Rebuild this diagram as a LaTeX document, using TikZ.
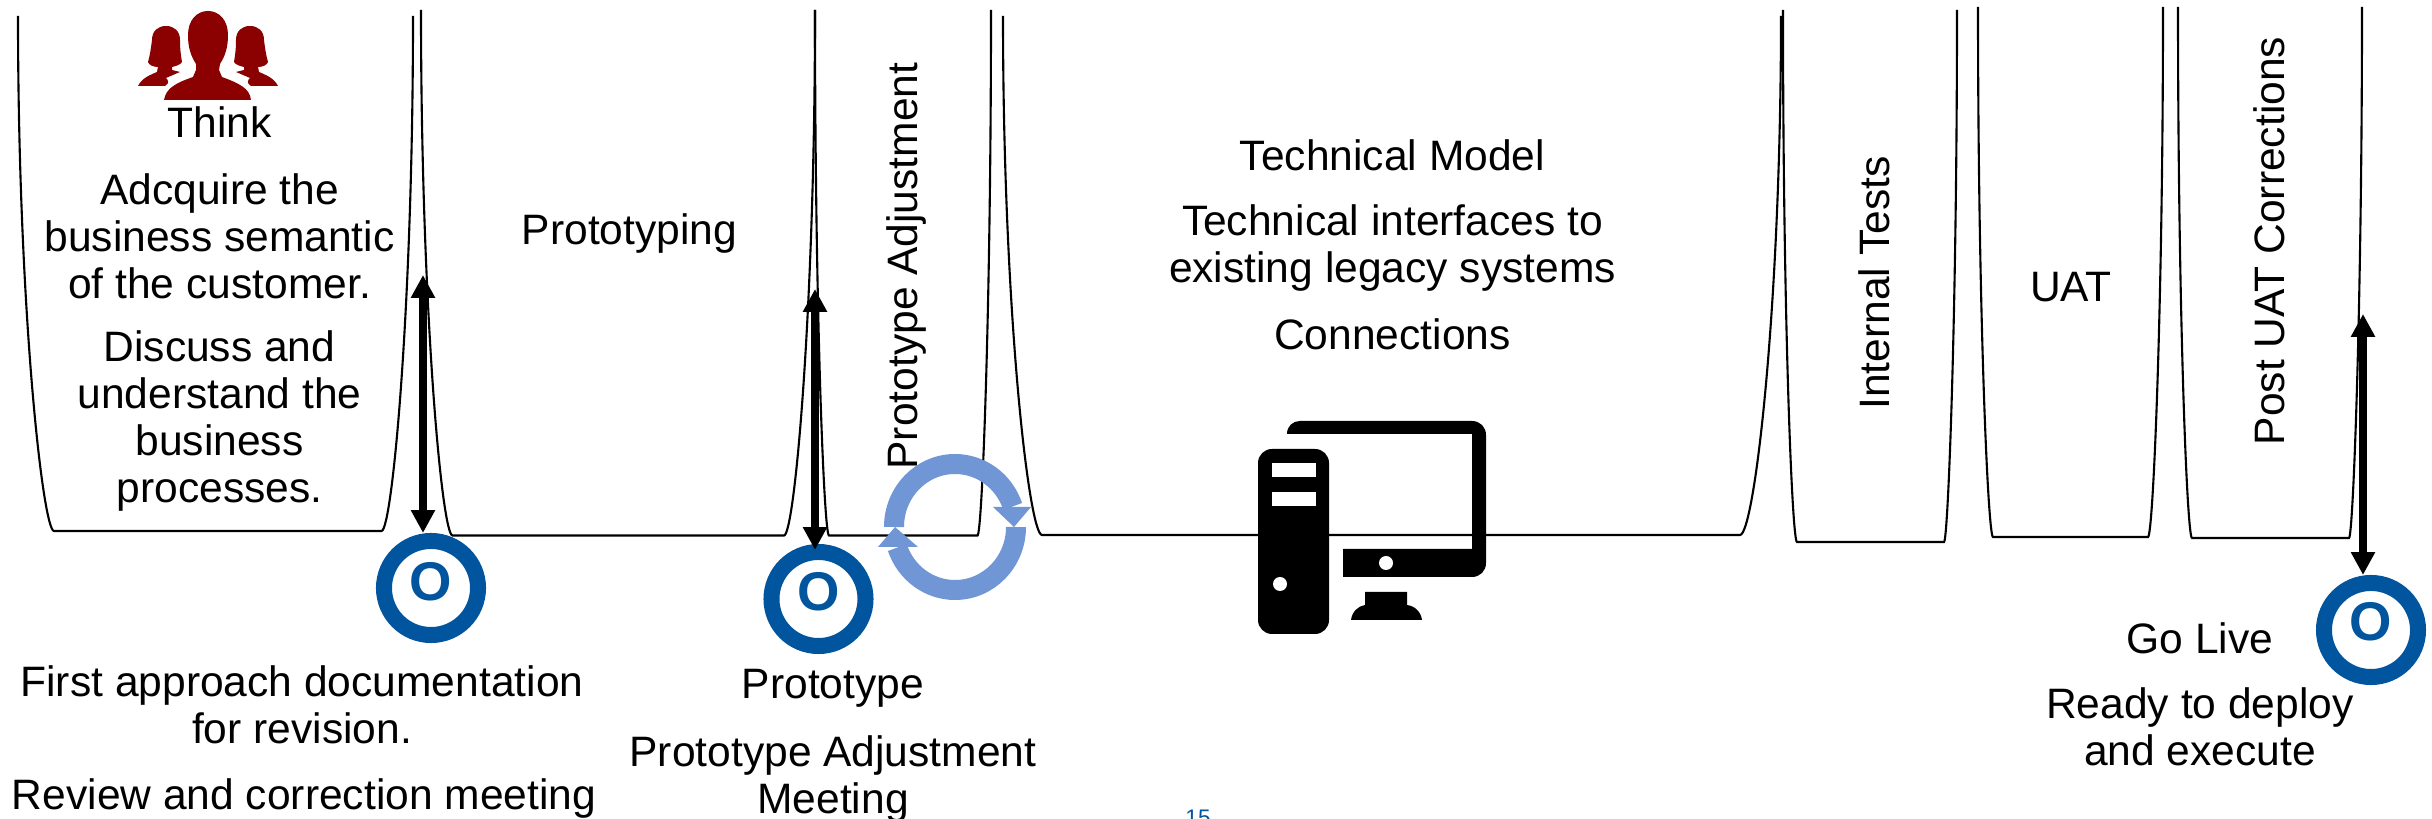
\documentclass[tikz,border=0pt]{standalone}
\usepackage{fontspec}
\setmainfont{Liberation Sans}
\usetikzlibrary{arrows.meta}
\definecolor{mileblue}{RGB}{0,85,158}
\definecolor{cycleblue}{RGB}{112,150,214}
\definecolor{iconred}{RGB}{139,0,0}
\tikzset{
  phase/.style={black, line width=0.6pt},
  txt/.style={align=center, inner sep=0pt, font=\fontsize{12.1}{13.4}\selectfont},
  gate/.style={black, line width=2.5pt, {Triangle[length=6.5pt,width=6.5pt]}-{Triangle[length=6.5pt,width=6.5pt]}},
  mile/.style={circle, draw=mileblue, line width=0.16cm, minimum size=0.94cm, inner sep=0pt},
  mileltr/.style={text=mileblue, inner sep=0pt, font=\fontsize{15.5}{15.5}\selectfont\bfseries},
  cycle/.style={cycleblue, line width=0.2cm}
}
\begin{document}
\begin{tikzpicture} [x=0.01cm, y=-0.01cm]
\useasboundingbox (0, 0) rectangle (2432, 819);
\draw[phase] (18, 16).. controls(18, 310)and(43, 531)..(54, 531) -- (381.5, 531).. controls(392, 531)and(413, 310)..(413, 16);
\draw[phase] (421, 10).. controls(421, 310)and(442, 535.5)..(452.5, 535.5) -- (784, 535.5).. controls(794.5, 535.5)and(815, 310)..(815, 10);
\draw[phase] (815, 10).. controls(815, 310)and(824, 535.5)..(829, 535.5) -- (977.5, 535.5).. controls(982, 535.5)and(991, 310)..(991, 10);
\draw[phase] (1003, 16).. controls(1003, 312)and(1029, 535)..(1042, 535) -- (1740, 535).. controls(1754, 535)and(1781, 312)..(1781, 16);
\draw[phase] (1783, 10).. controls(1783, 313)and(1792, 542)..(1797, 542) -- (1944, 542).. controls(1948, 542)and(1957, 313)..(1957, 10);
\draw[phase] (1978, 7).. controls(1978, 310)and(1988, 537)..(1993, 537) -- (2148, 537).. controls(2153, 537)and(2163, 310)..(2163, 7);
\draw[phase] (2178, 7).. controls(2178, 310)and(2187, 538)..(2192, 538) -- (2349, 538).. controls(2353, 538)and(2362, 310)..(2362, 7);
% people
\fill[iconred] (164, 100).. controls(166, 88)and(176, 83)..(193, 77) -- (196, 70) -- (196, 64).. controls(191, 56)and(188, 48)..(188, 35).. controls(188, 20)and(197, 11)..(208, 11).. controls(219, 11)and(228, 20)..(228, 35).. controls(228, 48)and(225, 56)..(220, 64) -- (219, 70) -- (222, 77).. controls(238, 83)and(250, 88)..(251, 100) -- cycle;
\foreach \flip in {1, -1}
  \fill[iconred, shift={(208, 0)}, xscale=\flip] (-70, 86).. controls(-66, 78)and(-58, 75)..(-51, 72) -- (-50, 67).. controls(-55, 67)and(-59, 65)..(-60, 62).. controls(-58, 55)and(-57, 48)..(-56, 40).. controls(-56, 31)and(-50, 26)..(-42, 26).. controls(-34, 26)and(-28, 31)..(-28, 40).. controls(-28, 50)and(-27, 56)..(-26, 62).. controls(-28, 65)and(-32, 66)..(-36, 67) -- (-36, 70) -- (-28, 72) -- (-42, 78).. controls(-40, 80)and(-38, 83)..(-43, 86) -- cycle;
% texts
\node[txt] (think) at (219.5, 122){Think};
\node[txt] (acquire) at (219.5, 236){Adcquire the\\business semantic\\of the customer.};
\node[txt] (discuss) at (219.5, 421){Discuss and\\understand the\\business\\processes.};
\node[txt] (prototyping) at (629.5, 234){Prototyping};
\node[txt, rotate=90] (protoAdjust) at (906, 266){Prototype Adjustment};
\node[txt] (techModel) at (1392.5, 155){Technical Model};
\node[txt] (techIface) at (1392.5, 248){Technical interfaces to\\existing legacy systems};
\node[txt] (connect) at (1392.5, 334){Connections};
\node[txt, rotate=90] (internal) at (1874, 283){Internal Tests};
\node[txt] (uat) at (2071, 287){UAT};
\node[txt, rotate=90] (postUat) at (2269, 241){Post UAT Corrections};
\node[txt] (firstDoc) at (302, 705){First approach documentation\\for revision.};
\node[txt] (review) at (304, 799){Review and correction meeting};
\node[txt] (prototype) at (833, 688){Prototype};
\node[txt] (protoMeet) at (833, 779){Prototype Adjustment\\Meeting};
\node[txt] (goLive) at (2200, 638){Go Live};
\node[txt] (ready) at (2200, 727){Ready to deploy\\and execute};
\node[txt, text=mileblue, font=\fontsize{6.4}{7}\selectfont, anchor=base] (pageNum) at (1198, 826){15};
% cycle
\draw[cycle] (955, 527) ++(180:61) arc[start angle=180, end angle=341, x radius=61, y radius=63];
\draw[cycle] (955, 527) ++(0:61) arc[start angle=0, end angle=161, x radius=61, y radius=63];
\fill[cycleblue] (993, 507) -- (1031, 507) -- (1014, 527) -- cycle;
\fill[cycleblue] (878, 547) -- (918, 547) -- (895, 527) -- cycle;
% computer
\fill[black] (1287, 434).. controls(1287, 426)and(1293, 421)..(1300, 421) -- (1472, 421).. controls(1480, 421)and(1486, 427)..(1486, 435) -- (1486, 563).. controls(1486, 571)and(1480, 577)..(1472, 577) -- (1343, 577) -- (1343, 549) -- (1472, 549) -- (1472, 434) -- cycle;
\fill[white] (1386, 563) circle[radius=7];
\fill[black] (1351, 620).. controls(1352, 612)and(1358, 606)..(1365, 605) -- (1365, 592) -- (1407, 592) -- (1407, 605).. controls(1415, 606)and(1421, 612)..(1422, 620) -- cycle;
\fill[black, rounded corners=0.14cm] (1258, 449) rectangle (1329, 634);
\fill[white] (1272, 463) rectangle (1316, 477);
\fill[white] (1272, 492) rectangle (1316, 506);
\fill[white] (1280, 584) circle[radius=7];
% milestones
\node[mile] (mileThink) at (431, 588){};
\node[mile] (mileProto) at (818.5, 599){};
\node[mile] (mileLive) at (2371, 630){};
\node[mileltr] (ltrThink) at (431, 582){O};
\node[mileltr] (ltrProto) at (818.5, 592){O};
\node[mileltr] (ltrLive) at (2371, 622){O};
\coordinate (topThink) at (423, 275);
\coordinate (topProto) at (815, 289);
\coordinate (topLive) at (2363, 314);
\draw[gate] (topThink) -- (topThink |- mileThink.north);
\draw[gate, shorten >=-1.7pt] (topProto) -- (topProto |- mileProto.north);
\draw[gate] (topLive) -- (topLive |- mileLive.north);
\end{tikzpicture}
\end{document}
